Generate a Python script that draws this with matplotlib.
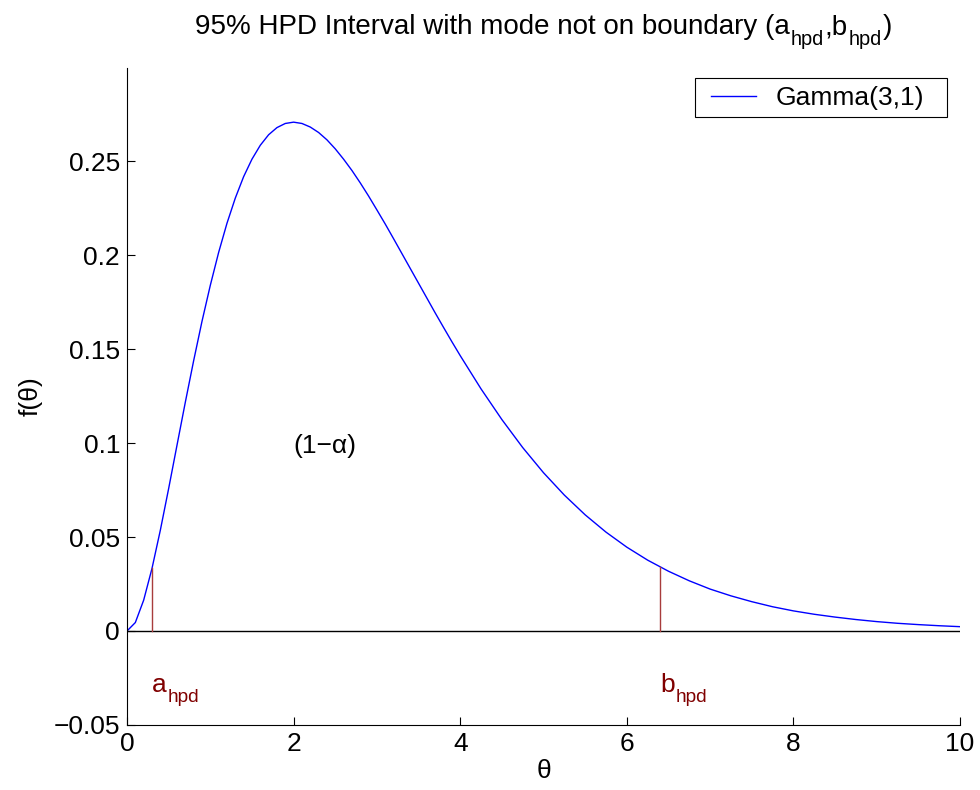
import numpy as np
import matplotlib
matplotlib.use('Agg')
import matplotlib.pyplot as plt
from matplotlib import transforms
from matplotlib.patches import Rectangle

plt.rcParams['font.family'] = ['Liberation Sans', 'DejaVu Sans']

# Gamma(3,1) density
theta = [0, 0.1, 0.2, 0.3, 0.4, 0.5, 0.6, 0.7, 0.8, 0.9, 1.0, 1.1, 1.2, 1.3,
         1.4, 1.5, 1.6, 1.7, 1.8, 1.9, 2.0, 2.1, 2.2, 2.3, 2.4, 2.5, 2.6, 2.7,
         2.8, 2.9, 3.0, 3.1, 3.2, 3.3, 3.4, 3.5, 3.6, 3.7, 3.8, 3.9, 4.0,
         4.25, 4.5, 4.75, 5.0, 5.25, 5.5, 5.75, 6.0, 6.25, 6.5, 6.75, 7.0,
         7.25, 7.5, 7.75, 8.0, 8.25, 8.5, 8.75, 9.0, 9.25, 9.5, 9.75, 10.0]
dens = [0, 0.0045, 0.0164, 0.0333, 0.0536, 0.0758, 0.0988, 0.1217, 0.1438,
        0.1647, 0.1839, 0.2014, 0.2169, 0.2303, 0.2417, 0.2510, 0.2584,
        0.2640, 0.2678, 0.2700, 0.2707, 0.2700, 0.2681, 0.2652, 0.2613,
        0.2565, 0.2510, 0.2450, 0.2384, 0.2314, 0.2240, 0.2165, 0.2087,
        0.2008, 0.1929, 0.1850, 0.1771, 0.1692, 0.1615, 0.1539, 0.1465,
        0.1288, 0.1125, 0.0976, 0.0842, 0.0723, 0.0618, 0.0526, 0.0446,
        0.0377, 0.0318, 0.0267, 0.0223, 0.0187, 0.0156, 0.0129, 0.0107,
        0.0089, 0.0074, 0.0061, 0.0050, 0.0041, 0.0034, 0.0028, 0.0023]

# HPD bounds and curve height there
a_hpd, b_hpd = 0.30, 6.40
f_a, f_b = 0.0333, 0.0340

FS = 19
fig = plt.figure(figsize=(9.8, 7.9), dpi=100)
ax = fig.add_axes([0.1296, 0.0823, 0.85, 0.8316])


def sub_text(x, y, parts, trans, color='black', size=FS, center=False):
    # MATLAB-style text with lowered subscripts: parts = [(str, is_sub), ...]
    r = fig.canvas.get_renderer()
    items = []
    for s, sub in parts:
        t = fig.text(0, 0, s, fontsize=size * 0.72 if sub else size,
                     color=color, va='baseline')
        w = t.get_window_extent(r).width
        items.append((t, w, sub))
    total = sum(w for _, w, _ in items) + 1.0 * (len(items) - 1)
    dx = -total / 2 if center else 0
    for t, w, sub in items:
        dy = -size * 0.55 if sub else 0
        t.set_transform(transforms.offset_copy(trans, fig=fig, x=dx, y=dy, units='dots'))
        t.set_position((x, y))
        dx += w + 1.0


ax.plot(theta, dens, color='blue', lw=1.0, label='Gamma(3,1)')
ax.plot([0, 10], [0, 0], color='black', lw=1.0)
ax.plot([a_hpd, a_hpd], [0, f_a], color='#a83c3c', lw=1.0)
ax.plot([b_hpd, b_hpd], [0, f_b], color='#a83c3c', lw=1.0)

ax.text(2.0, 0.0947, '(1\u2212\u03b1)', fontsize=FS, va='baseline')

ax.set_xlim(0, 10)
ax.set_ylim(-0.05, 0.2995)
ax.set_xticks([0, 2, 4, 6, 8, 10])
ax.set_yticks([-0.05, 0, 0.05, 0.1, 0.15, 0.2, 0.25])
ax.set_yticklabels(['\u22120.05', '0', '0.05', '0.1', '0.15', '0.2', '0.25'])
ax.tick_params(direction='in', labelsize=FS, length=6, width=0.8, pad=5)
ax.spines['top'].set_visible(False)
ax.spines['right'].set_visible(False)

ax.set_xlabel('\u03b8', fontsize=FS, labelpad=2)
ax.set_ylabel('f(\u03b8)', fontsize=FS, labelpad=8)

# legend: MATLAB-like wide box drawn separately
ax.add_patch(Rectangle((0.682, 0.925), 0.302, 0.060, transform=ax.transAxes,
                       facecolor='white', edgecolor='black', lw=0.8,
                       clip_on=False, zorder=4))
leg = ax.legend(loc='upper left', bbox_to_anchor=(0.701, 0.973), fontsize=FS,
                frameon=False, handlelength=1.7, borderaxespad=0, borderpad=0,
                handletextpad=0.75)
leg.set_zorder(5)

sub_text(a_hpd, -0.0322, [('a', False), ('hpd', True)], ax.transData, color='#800000')
sub_text(b_hpd, -0.0322, [('b', False), ('hpd', True)], ax.transData, color='#800000')
sub_text(0.5546, 1 - 34 / 790,
         [('95% HPD Interval with mode not on boundary (a', False), ('hpd', True),
          (',b', False), ('hpd', True), (')', False)],
         fig.transFigure, size=20, center=True)

plt.savefig('out.png', dpi=100)
